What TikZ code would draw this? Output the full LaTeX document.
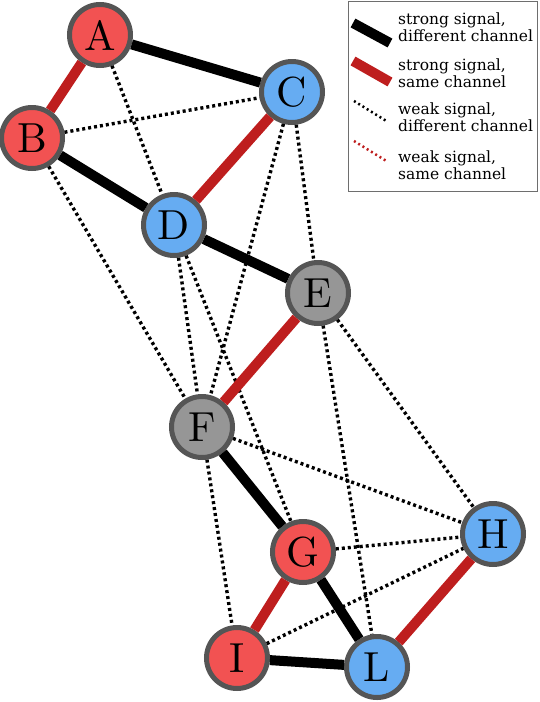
\documentclass[tikz,border=0pt]{standalone}
\usepackage{fontspec}
\usepackage{tikz}
\usetikzlibrary{positioning}
\newfontfamily\legendfont{DejaVu Serif}
\newfontfamily\letterfont{lmroman10-regular.otf}
\definecolor{nodered}{RGB}{242,82,82}
\definecolor{nodeblue}{RGB}{102,172,242}
\definecolor{nodegray}{RGB}{150,150,150}
\definecolor{rimgray}{RGB}{85,85,85}
\definecolor{linkred}{RGB}{190,30,30}
\definecolor{framegray}{RGB}{110,110,110}
\tikzset{
  station/.style={circle, draw=rimgray, line width=5pt, minimum size=61pt,
    inner sep=0pt, font=\letterfont\fontsize{42}{42}\selectfont},
  rednode/.style={station, fill=nodered},
  bluenode/.style={station, fill=nodeblue},
  graynode/.style={station, fill=nodegray},
  strongdiff/.style={line width=10pt, black},
  strongsame/.style={line width=10pt, linkred},
  weakdiff/.style={line width=3.4pt, black, dash pattern=on 3pt off 3pt},
  weaksame/.style={line width=3.4pt, linkred, dash pattern=on 3pt off 3pt},
  legendtext/.style={anchor=west, align=left, inner sep=0pt,
    font=\legendfont\fontsize{15.5}{17}\selectfont}
}
\begin{document}
\begin{tikzpicture}[x=1pt, y=-1pt]
\useasboundingbox (0,0) rectangle (540,702);

% stations
\node[rednode] (A) at (100,35) {A};
\node[rednode] (B) at (32,138) {B};
\node[bluenode] (C) at (292,92) {C};
\node[bluenode] (D) at (174,225) {D};
\node[graynode] (E) at (318,293) {E};
\node[graynode] (F) at (202,427) {F};
\node[rednode] (G) at (303,552) {G};
\node[bluenode] (H) at (493,534) {H};
\node[rednode] (I) at (237,658) {I};
\node[bluenode] (L) at (377,667) {L};

% links
\draw[weakdiff] (A) -- (D);
\draw[weakdiff] (B) -- (C);
\draw[weakdiff] (B) -- (F);
\draw[weakdiff] (C) -- (F);
\draw[weakdiff] (C) -- (E);
\draw[weakdiff] (D) -- (F);
\draw[weakdiff] (D) -- (G);
\draw[weakdiff] (E) -- (L);
\draw[weakdiff] (E) -- (H);
\draw[weakdiff] (F) -- (H);
\draw[weakdiff] (F) -- (I);
\draw[weakdiff] (G) -- (H);
\draw[weakdiff] (I) -- (H);

\draw[strongdiff] (A) -- (C);
\draw[strongdiff] (B) -- (D);
\draw[strongdiff] (D) -- (E);
\draw[strongdiff] (F) -- (G);
\draw[strongdiff] (G) -- (L);
\draw[strongdiff] (I) -- (L);

\draw[strongsame] (A) -- (B);
\draw[strongsame] (C) -- (D);
\draw[strongsame] (E) -- (F);
\draw[strongsame] (G) -- (I);
\draw[strongsame] (H) -- (L);

% legend
\node[draw=framegray, line width=1pt, minimum width=189pt, minimum height=190pt,
  anchor=north west, inner sep=0pt] (legend) at (348,1) {};
\coordinate (s1a) at (353,23); \coordinate (s1b) at (390,43);
\coordinate (s2a) at (353,61); \coordinate (s2b) at (390,82);
\coordinate (s3a) at (354,101); \coordinate (s3b) at (388,122);
\coordinate (s4a) at (354,141); \coordinate (s4b) at (388,162);
\draw[strongdiff] (s1a) -- (s1b);
\draw[strongsame] (s2a) -- (s2b);
\draw[weakdiff, line width=2.5pt, dash pattern=on 2pt off 3pt] (s3a) -- (s3b);
\draw[weaksame, line width=2.5pt, dash pattern=on 2pt off 3pt] (s4a) -- (s4b);
\node[legendtext] (t1) at (398,27) {strong signal,\\different channel};
\node[legendtext] (t2) at (398,73) {strong signal,\\same channel};
\node[legendtext] (t3) at (398,117) {weak signal,\\different channel};
\node[legendtext] (t4) at (398,165) {weak signal,\\same channel};
\end{tikzpicture}
\end{document}
